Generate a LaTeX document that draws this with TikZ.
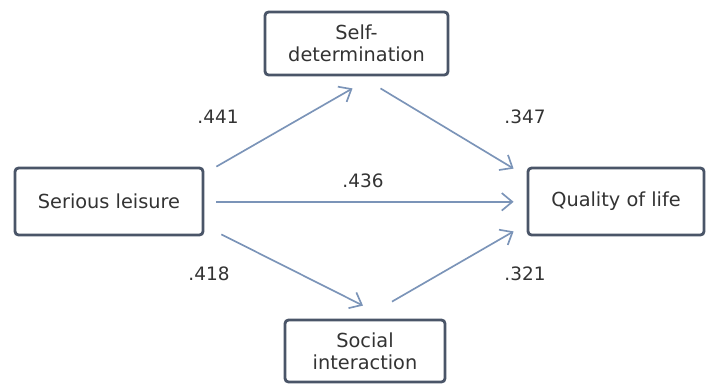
\documentclass[tikz,border=0pt]{standalone}
\usepackage{fontspec}
\setmainfont{DejaVu Sans}
\usetikzlibrary{arrows.meta}
\definecolor{boxline}{HTML}{4A5568}
\definecolor{arrline}{HTML}{7B94B8}
\definecolor{txtgray}{HTML}{333333}

\begin{document}
\begin{tikzpicture}[x=0.02cm,y=-0.02cm,>={Straight Barb[length=6pt,width=10pt]},
        box/.style={draw=boxline, line width=1.6pt, rounded corners=2pt, fill=white, align=center,
          text=txtgray, inner sep=0pt, font=\fontsize{11}{12.5}\selectfont},
        link/.style={->, arrline, line width=0.95pt},
        coef/.style={text=txtgray, font=\fontsize{10.5}{12.5}\selectfont}]
        \useasboundingbox (0,0) rectangle (706,383);
        \node[box, minimum width=3.66cm, minimum height=1.26cm] (self) at (356.5,43.5) {Self-\\determination};
        \node[box, minimum width=3.76cm, minimum height=1.34cm] (leisure) at (109,201.5) {Serious leisure};
        \node[box, minimum width=3.52cm, minimum height=1.34cm] (qol) at (616,201.5) {Quality of life};
        \node[box, minimum width=3.2cm, minimum height=1.24cm] (social) at (365,351) {Social\\interaction};
        \draw[link] ([shift={(12,0)}]leisure.north east) -- ([shift={(-4,12)}]self.south);
        \draw[link] ([shift={(24,12)}]self.south) -- ([shift={(-13,2)}]qol.north west);
        \draw[link] ([shift={(12,0.3)}]leisure.east) -- ([shift={(-13,0.3)}]qol.west);
        \draw[link] ([shift={(17,-2)}]leisure.south east) -- ([shift={(-2,-13)}]social.north);
        \draw[link] ([shift={(27,-17)}]social.north) -- ([shift={(-13,-5)}]qol.south west);
        \node[coef] (c1) at (218,117) {.441};
        \node[coef] (c2) at (525,117) {.347};
        \node[coef] (c3) at (363,181) {.436};
        \node[coef] (c4) at (209,274) {.418};
        \node[coef] (c5) at (525,274) {.321};
\end{tikzpicture}
\end{document}
